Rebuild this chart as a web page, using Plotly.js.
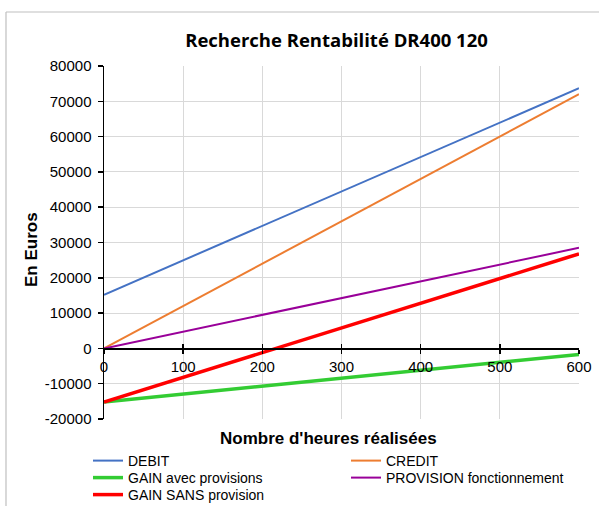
<!DOCTYPE html>
<html>
<head>
<meta charset="utf-8">
<script src="https://cdn.plot.ly/plotly-3.0.1.min.js"></script>
<style>html,body{margin:0;padding:0;background:#fff;}#chart{width:599px;height:506px;}</style>
</head>
<body>
<div id="chart"></div>
<script>
const hours = [0, 100, 200, 300, 400, 500, 600];
const debit = [15200, 24950, 34700, 44450, 54200, 63950, 73700];
const credit = [0, 12000, 24000, 36000, 48000, 60000, 72000];
const gainAvec = [-15200, -12950, -10700, -8450, -6200, -3950, -1700];
const provision = [0, 4750, 9500, 14250, 19000, 23750, 28500];
const gainSans = [-15200, -8200, -1200, 5800, 12800, 19800, 26800];
const xTicks = [0, 100, 200, 300, 400, 500, 600];
const yTicks = [-20000, -10000, 0, 10000, 20000, 30000, 40000, 50000, 60000, 70000, 80000];

const W = 599, H = 506, ml = 104, mr = 20, mt = 66, mb = 87;
const pw = W - ml - mr, ph = H - mt - mb;
const px = v => (v - ml) / pw;
const py = v => (H - mb - v) / ph;

const f = 'Liberation Sans, Arial, sans-serif';
function tr(y, name, color, width, lg) {
  return {x: hours, y: y, name: name, type: 'scatter', mode: 'lines', legend: lg,
          line: {color: color, width: width}};
}
const data = [
  tr(debit, 'DEBIT', '#4472C4', 2, 'legend'),
  tr(credit, 'CREDIT', '#ED7D31', 2, 'legend2'),
  tr(gainAvec, 'GAIN avec provisions', '#33CC33', 3.5, 'legend3'),
  tr(provision, 'PROVISION fonctionnement', '#990099', 2, 'legend4'),
  tr(gainSans, 'GAIN SANS provision', '#FF0000', 3.5, 'legend5'),
  {x: [0], y: [0], xaxis: 'x2', showlegend: false, mode: 'none', hoverinfo: 'skip'}
];

function lgd(xpx, ypx) {
  return {orientation: 'v', x: px(xpx), xanchor: 'left', y: py(ypx), yanchor: 'middle',
          itemwidth: 30, borderwidth: 0, bgcolor: 'rgba(0,0,0,0)',
          font: {family: f, size: 14, color: '#000'}};
}

const layout = {
  width: W, height: H,
  margin: {l: ml, r: mr, t: mt, b: mb, autoexpand: false},
  paper_bgcolor: '#fff', plot_bgcolor: '#fff',
  font: {family: f, size: 14, color: '#000'},
  showlegend: true,
  title: {text: '<b>Recherche Rentabilité DR400 120</b>', x: px(336.5), xanchor: 'center', xref: 'paper',
          y: 1 - 41 / H, yanchor: 'middle', font: {family: 'Open Sans, sans-serif', size: 18.5, color: '#000'}},
  xaxis: {range: [0, 600], tickvals: xTicks, ticktext: xTicks.map(String), anchor: 'free', position: 0.2,
          showgrid: true, gridcolor: '#D9D9D9', gridwidth: 1, zeroline: false,
          showline: true, linecolor: '#000', linewidth: 1.5, ticks: 'outside', ticklen: 4, tickcolor: '#000', tickwidth: 1.5,
          tickfont: {family: f, size: 15, color: '#000'}},
  xaxis2: {range: [0, 600], tickvals: xTicks, anchor: 'free', position: 0.2, overlaying: 'x',
           showgrid: false, zeroline: false, showline: false, showticklabels: false,
           ticks: 'inside', ticklen: 4, tickcolor: '#000', tickwidth: 1.5},
  yaxis: {range: [-20000, 80000], tickvals: yTicks, ticktext: yTicks.map(String),
          showgrid: true, gridcolor: '#D9D9D9', gridwidth: 1, zeroline: false,
          showline: true, linecolor: '#000', linewidth: 1.5, ticks: 'outside', ticklen: 5, tickcolor: '#000', tickwidth: 1.5,
          ticklabelstandoff: 3,
          tickfont: {family: f, size: 15, color: '#000'}},
  legend: lgd(88, 461),
  legend2: lgd(346, 461),
  legend3: lgd(88, 478),
  legend4: lgd(346, 478),
  legend5: lgd(88, 495),
  annotations: [
    {text: '<b>Nombre d\'heures réalisées</b>', xref: 'paper', yref: 'paper', x: px(328), y: py(438),
     xanchor: 'center', yanchor: 'middle', showarrow: false, font: {family: f, size: 17, color: '#000'}},
    {text: '<b>En Euros</b>', xref: 'paper', yref: 'paper', x: px(31), y: py(250), textangle: -90,
     xanchor: 'center', yanchor: 'middle', showarrow: false, font: {family: f, size: 17, color: '#000'}}
  ],
  shapes: [
    {type: 'line', xref: 'paper', yref: 'paper', x0: px(6), x1: px(606), y0: py(12), y1: py(12), line: {color: '#BFBFBF', width: 1.2}},
    {type: 'line', xref: 'paper', yref: 'paper', x0: px(6), x1: px(6), y0: py(12), y1: py(515), line: {color: '#BFBFBF', width: 1.2}}
  ]
};

Plotly.newPlot('chart', data, layout, {displayModeBar: false, staticPlot: true});
</script>
</body>
</html>
